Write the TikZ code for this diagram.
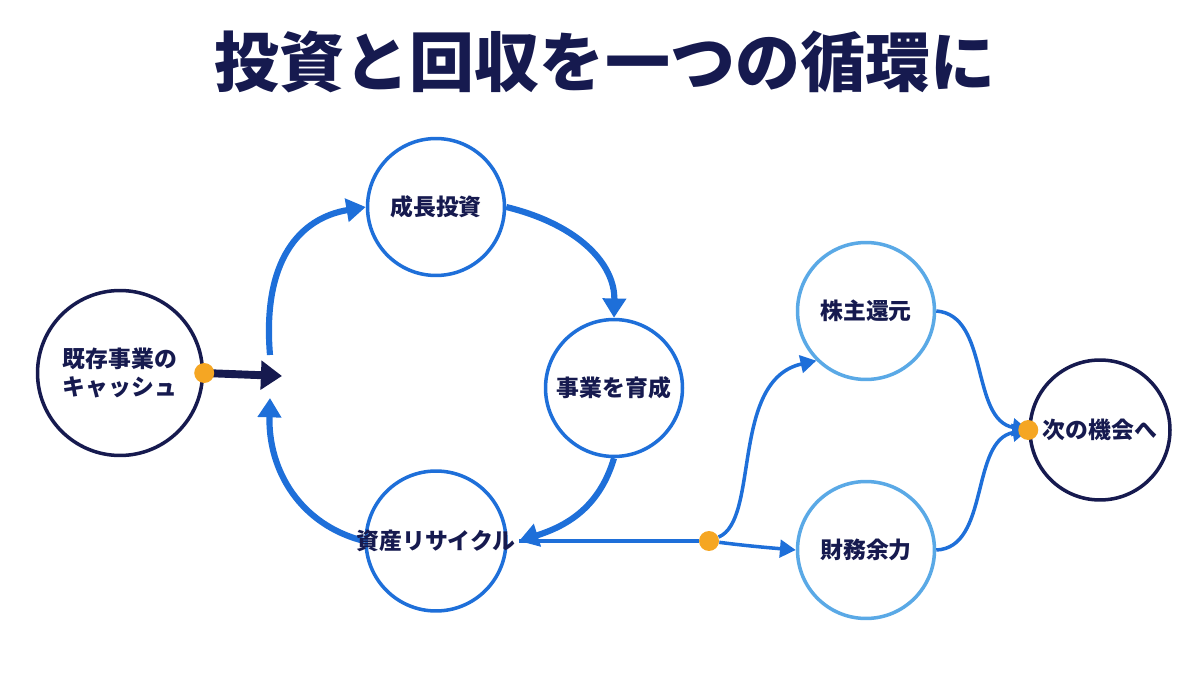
\documentclass[tikz,border=0pt]{standalone}
\usepackage{fontspec}
\setmainfont{Noto Sans CJK JP}
\usetikzlibrary{arrows.meta}
\definecolor{navy}{HTML}{161A4F}
\definecolor{mainblue}{HTML}{1E6FD9}
\definecolor{lightblue}{HTML}{5AA9E6}
\definecolor{dotorange}{HTML}{F5A623}
\tikzstyle{stage}=[circle, draw=mainblue, line width=2pt, fill=white, inner sep=0pt, font=\bfseries\fontsize{13}{16}\selectfont, text=navy, align=center]
\tikzstyle{flow}=[draw=mainblue, line width=3.5pt, -{Triangle[length=11pt,width=13pt]}]
\tikzstyle{thin}=[draw=mainblue, line width=2pt, -{Triangle[length=9pt,width=10pt]}]
\tikzstyle{dot}=[circle, fill=dotorange, minimum size=0.4cm, inner sep=0pt]
\begin{document}
\begin{tikzpicture}[x=0.02cm,y=-0.02cm]
	\useasboundingbox (0,0) rectangle (1200,675);

	\node[font=\bfseries\fontsize{37}{44}\selectfont, text=navy] (title) at (605,62) {投資と回収を一つの循環に};

	\node[stage, draw=navy, minimum size=3.3cm] (cash) at (120,373) {既存事業の\\キャッシュ};
	\node[stage, minimum size=2.74cm] (invest) at (436,207) {成長投資};
	\node[stage, minimum size=2.74cm] (grow) at (614,388) {事業を育成};
	\node[stage, minimum size=2.8cm] (recycle) at (436,541) {};
	\node[stage, draw=lightblue, minimum size=2.74cm] (return) at (866,311) {株主還元};
	\node[stage, draw=lightblue, minimum size=2.74cm] (reserve) at (866,550) {財務余力};
	\node[stage, draw=navy, minimum size=2.8cm] (next) at (1100,430) {次の機会へ};

	\coordinate (hub) at (282,376);
	\coordinate (upper) at (270,355);
	\coordinate (lower) at (270,398);
	\coordinate (recyclein) at (519,541);

	% cash into the loop
	\draw[draw=navy, line width=4.5pt, -{Triangle[length=12pt,width=16pt]}] (cash.east) -- (hub);
	\node[dot] (d1) at (cash.east) {};

	% the loop
	\draw[flow] (upper) .. controls (262,260) and (300,218) .. (invest.west);
	\draw[flow] (invest.east) .. controls (580,225) and (615,265) .. (grow.north);
	\draw[flow] (grow.south) .. controls (600,505) and (570,525) .. (recyclein);
	\draw[flow] (recycle.west) .. controls (300,525) and (268,470) .. (lower);

	% after recycling
	\node[dot] (d2) at (709,541) {};
	\draw[draw=mainblue, line width=2pt] (recyclein) -- (d2);
	\draw[thin] (d2) .. controls (740,545) and (760,547) .. (reserve.west);
	\draw[thin] (d2) .. controls (760,520) and (730,380) .. (return.south west);
	\draw[thin] (return.east) .. controls (990,315) and (970,420) .. (next.west);
	\draw[thin] (reserve.east) .. controls (990,548) and (970,440) .. (next.west);
	\node[dot] (d3) at (next.west) {};

	\node[font=\bfseries\fontsize{13}{16}\selectfont, text=navy] (recyclelabel) at (recycle) {資産リサイクル};
\end{tikzpicture}
\end{document}
